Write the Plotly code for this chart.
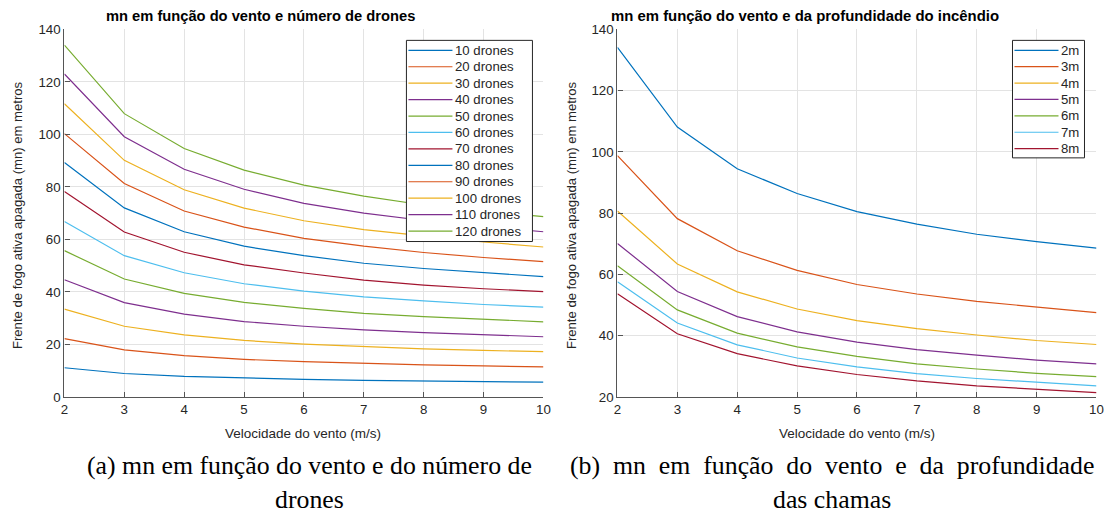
import plotly.graph_objects as go

W, H = 1110, 516

# Wind speed (m/s)
vento = [2, 3, 4, 5, 6, 7, 8, 9, 10]

# Panel (a): extinguished front (m) per number of drones
drones_labels = ["10 drones", "20 drones", "30 drones", "40 drones", "50 drones", "60 drones",
                 "70 drones", "80 drones", "90 drones", "100 drones", "110 drones", "120 drones"]
mn_10 = [11.1, 8.9, 7.8, 7.2, 6.7, 6.3, 6.0, 5.8, 5.6]
mn_20 = [22.2, 17.9, 15.7, 14.3, 13.4, 12.7, 12.2, 11.8, 11.4]
mn_30 = [33.4, 26.9, 23.6, 21.5, 20.1, 19.1, 18.3, 17.7, 17.2]
mn_40 = [44.6, 35.9, 31.5, 28.7, 26.9, 25.5, 24.5, 23.6, 22.9]
mn_50 = [55.7, 44.9, 39.4, 36.0, 33.7, 31.8, 30.6, 29.5, 28.6]
mn_60 = [66.8, 53.8, 47.3, 43.1, 40.3, 38.1, 36.6, 35.2, 34.2]
mn_70 = [78.2, 62.8, 55.1, 50.3, 47.2, 44.5, 42.6, 41.2, 40.1]
mn_80 = [89.3, 72.0, 62.9, 57.4, 53.8, 50.9, 48.9, 47.3, 45.8]
mn_90 = [100.3, 81.3, 70.8, 64.7, 60.4, 57.4, 55.0, 53.1, 51.5]
mn_100 = [111.7, 90.1, 78.9, 71.9, 67.1, 63.7, 61.3, 59.0, 57.1]
mn_110 = [123.0, 99.1, 86.7, 79.1, 73.7, 70.0, 67.2, 64.9, 62.9]
mn_120 = [134.0, 107.9, 94.6, 86.4, 80.7, 76.5, 73.1, 70.7, 68.7]
drones_series = [mn_10, mn_20, mn_30, mn_40, mn_50, mn_60,
                 mn_70, mn_80, mn_90, mn_100, mn_110, mn_120]

# Panel (b): extinguished front (m) per fire depth
prof_labels = ["2m", "3m", "4m", "5m", "6m", "7m", "8m"]
prof_2 = [134.1, 108.1, 94.5, 86.4, 80.5, 76.4, 73.1, 70.7, 68.6]
prof_3 = [98.8, 78.2, 67.7, 61.3, 56.7, 53.6, 51.2, 49.3, 47.5]
prof_4 = [80.7, 63.4, 54.3, 48.7, 44.9, 42.3, 40.2, 38.4, 37.1]
prof_5 = [70.1, 54.4, 46.2, 41.2, 37.9, 35.4, 33.6, 32.0, 30.8]
prof_6 = [62.8, 48.4, 40.8, 36.3, 33.2, 30.8, 29.1, 27.7, 26.6]
prof_7 = [57.6, 44.1, 37.0, 32.7, 29.8, 27.6, 26.0, 24.7, 23.6]
prof_8 = [53.7, 40.6, 34.1, 30.1, 27.3, 25.2, 23.6, 22.4, 21.4]
prof_series = [prof_2, prof_3, prof_4, prof_5, prof_6, prof_7, prof_8]

# MATLAB default line colour order
cores = ["#0072BD", "#D95319", "#EDB120", "#7E2F8E", "#77AC30", "#4DBEEE", "#A2142F"]

SANS = "Liberation Sans, Arial, sans-serif"
SERIF = "Liberation Serif, Times New Roman, serif"
TXT = "#262626"

# Layout is specified in target pixel positions; these helpers convert to
# paper fractions (with a small calibration of the rendered frame).
SX, OX = 0.990, 3.6
SY, OY = 0.975, 5.5


def px(x):
    return ((x - OX) / SX) / W


def py(y):
    return 1 - ((y - OY) / SY) / H


fig = go.Figure()

for i, (nome, ys) in enumerate(zip(drones_labels, drones_series)):
    fig.add_trace(go.Scatter(x=vento, y=ys, name=nome, mode="lines",
                             line=dict(color=cores[i % 7], width=1.2),
                             xaxis="x", yaxis="y", showlegend=False))

for i, (nome, ys) in enumerate(zip(prof_labels, prof_series)):
    fig.add_trace(go.Scatter(x=vento, y=ys, name=nome, mode="lines",
                             line=dict(color=cores[i % 7], width=1.2),
                             xaxis="x2", yaxis="y2", showlegend=False))

axis_common = dict(
    showgrid=True, gridcolor="#e3e3e3", gridwidth=1,
    showline=True, linecolor="#555555", linewidth=1.3,
    ticks="inside", ticklen=5, tickcolor="#555555", tickwidth=1,
    tickfont=dict(family=SANS, size=13.3, color=TXT),
    zeroline=False, mirror=False,
)

ydom = [py(397), py(28)]
fig.update_layout(
    width=W, height=H,
    margin=dict(l=0, r=0, t=0, b=0),
    paper_bgcolor="white", plot_bgcolor="white",
    xaxis=dict(domain=[px(64), px(543)], range=[2, 10], dtick=1, anchor="y", **axis_common),
    yaxis=dict(domain=ydom, range=[0, 140], dtick=20, anchor="x", **axis_common),
    xaxis2=dict(domain=[px(617), px(1096)], range=[2, 10], dtick=1, anchor="y2", **axis_common),
    yaxis2=dict(domain=ydom, range=[20, 140], dtick=20, anchor="x2", **axis_common),
    showlegend=False,
)

shapes = []
annotations = []


def legenda(labels, x0, x1, y0, passo, box):
    bx0, by0, bx1, by1 = box
    shapes.append(dict(type="rect", xref="paper", yref="paper",
                       x0=px(bx0), x1=px(bx1), y0=py(by1), y1=py(by0),
                       line=dict(color=TXT, width=1), fillcolor="white", layer="above"))
    for i, nome in enumerate(labels):
        yy = y0 + i * passo
        shapes.append(dict(type="line", xref="paper", yref="paper",
                           x0=px(x0), x1=px(x1), y0=py(yy), y1=py(yy),
                           line=dict(color=cores[i % 7], width=1.2), layer="above"))
        annotations.append(dict(text=nome, xref="paper", yref="paper",
                                x=px(x1 + 1), y=py(yy), xanchor="left", yanchor="middle",
                                showarrow=False, font=dict(family=SANS, size=13.2, color=TXT)))


legenda(drones_labels, 408, 452, 49, 16.5, (406, 39, 532, 241))
legenda(prof_labels, 1014, 1058, 49, 16.45, (1012, 39, 1084, 157))

# Panel titles
annotations.append(dict(text="<b>mn em função do vento e número de drones</b>", xref="paper", yref="paper",
                        x=px(104), y=py(15), xanchor="left", yanchor="middle", showarrow=False,
                        font=dict(family=SANS, size=14.7, color="#000000")))
annotations.append(dict(text="<b>mn em função do vento e da profundidade do incêndio</b>", xref="paper",
                        yref="paper", x=px(609), y=py(15), xanchor="left", yanchor="middle",
                        showarrow=False, font=dict(family=SANS, size=14.9, color="#000000")))

# Axis titles
ytit = "Frente de fogo ativa apagada (mn) em metros"
for xc in (17, 571):
    annotations.append(dict(text=ytit, xref="paper", yref="paper", x=px(xc), y=py(214),
                            xanchor="center", yanchor="middle", textangle=-90, showarrow=False,
                            font=dict(family=SANS, size=13.1, color=TXT)))
for xc in (303, 857):
    annotations.append(dict(text="Velocidade do vento (m/s)", xref="paper", yref="paper",
                            x=px(xc), y=py(434), xanchor="center", yanchor="middle",
                            showarrow=False, font=dict(family=SANS, size=13.5, color=TXT)))


def justificada(palavras, extra):
    """Join words with widened (justified-looking) inter-word spacing."""
    return (" " * (1 + extra)).join(palavras)


# Sub-figure captions (first line justified to the sub-figure width)
legendas_fig = [
    (309, justificada("(a) mn em função do vento e do número de".split(), 0), "drones"),
    (831.5, justificada("(b) mn em função do vento e da profundidade".split(), 1), "das chamas"),
]
for xc, l1, l2 in legendas_fig:
    annotations.append(dict(text=l1, xref="paper", yref="paper", x=px(xc), y=py(466),
                            xanchor="center", yanchor="middle", showarrow=False,
                            font=dict(family=SERIF, size=25.8, color="#000000")))
    annotations.append(dict(text=l2, xref="paper", yref="paper", x=px(xc), y=py(500),
                            xanchor="center", yanchor="middle", showarrow=False,
                            font=dict(family=SERIF, size=25.8, color="#000000")))

fig.update_layout(shapes=shapes, annotations=annotations)
fig.write_html("out.html")
